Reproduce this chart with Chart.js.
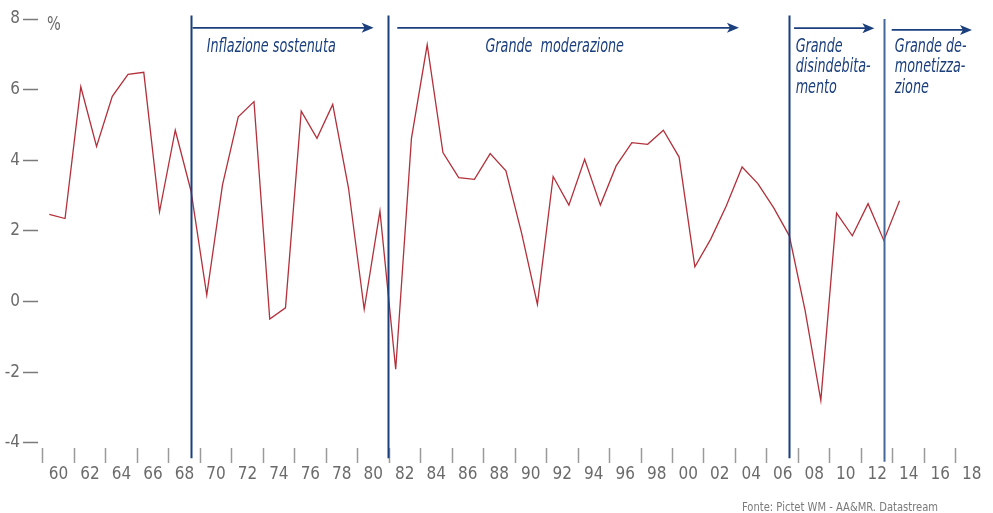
<!DOCTYPE html>
<html>
<head>
<meta charset="utf-8">
<script src="https://cdn.jsdelivr.net/npm/chart.js@4.4.1/dist/chart.umd.min.js"></script>
<style>
    html, body { margin: 0; padding: 0; background: #ffffff; }
    #wrap { width: 993px; height: 513px; }
</style>
</head>
<body>
<div id="wrap"><canvas id="growthChart" width="993" height="513"></canvas></div>
<script>
// Serie annuale (%)
const years = [1960, 1961, 1962, 1963, 1964, 1965, 1966, 1967, 1968, 1969,
    1970, 1971, 1972, 1973, 1974, 1975, 1976, 1977, 1978, 1979,
    1980, 1981, 1982, 1983, 1984, 1985, 1986, 1987, 1988, 1989,
    1990, 1991, 1992, 1993, 1994, 1995, 1996, 1997, 1998, 1999,
    2000, 2001, 2002, 2003, 2004, 2005, 2006, 2007, 2008, 2009,
    2010, 2011, 2012, 2013, 2014];
const growth = [2.47, 2.35, 6.08, 4.39, 5.81, 6.43, 6.49, 2.54, 4.85, 3.13,
    0.18, 3.30, 5.23, 5.66, -0.50, -0.18, 5.39, 4.62, 5.58, 3.22,
    -0.22, 2.56, -1.92, 4.62, 7.27, 4.22, 3.51, 3.46, 4.19, 3.70,
    1.93, -0.08, 3.54, 2.73, 4.03, 2.73, 3.84, 4.50, 4.45, 4.85,
    4.09, 0.98, 1.76, 2.71, 3.81, 3.34, 2.66, 1.86, -0.25, -2.80,
    2.50, 1.86, 2.77, 1.73, 2.85];

// Assi
const xTickLabels = ['60', '62', '64', '66', '68', '70', '72', '74', '76', '78',
    '80', '82', '84', '86', '88', '90', '92', '94', '96', '98',
    '00', '02', '04', '06', '08', '10', '12', '14', '16', '18'];
const xLabelYears = [1960, 1962, 1964, 1966, 1968, 1970, 1972, 1974, 1976, 1978,
    1980, 1982, 1984, 1986, 1988, 1990, 1992, 1994, 1996, 1998,
    2000, 2002, 2004, 2006, 2008, 2010, 2012, 2014, 2016, 2018];
const yTickValues = [-4, -2, 0, 2, 4, 6, 8];

// Periodi
const periodLines = [1969, 1981.5, 2007, 2013];
const arrowStarts = [1969.1, 1982.1, 2007.3, 2013.5];
const arrowEnds = [1980.6, 2003.8, 2012.4, 2018.6];
const arrowLevels = [7.75, 7.75, 7.74, 7.69];
const titleStarts = [1970.0, 1987.7, 2007.4, 2013.7];
const periodTitles = [
    ['Inflazione sostenuta'],
    ['Grande  moderazione'],
    ['Grande', 'disindebita-', 'mento'],
    ['Grande de-', 'monetizza-', 'zione']
];
const sourceNote = 'Fonte: Pictet WM - AA&MR. Datastream';

const FONT = '"Liberation Sans Narrow", "DejaVu Sans Condensed", sans-serif';
const NAVY = '#1b3f7c';

// testo compresso in orizzontale (il font originale e' condensato)
function drawNarrow(ctx, txt, x, y, sx) {
    ctx.save();
    ctx.translate(x, y);
    ctx.scale(sx, 1);
    ctx.fillText(txt, 0, 0);
    ctx.restore();
}

const periodPlugin = {
    id: 'periodPlugin',
    afterDatasetsDraw(chart) {
        const ctx = chart.ctx;
        const xs = chart.scales.x;
        const ys = chart.scales.y;
        ctx.save();

        // linee verticali
        periodLines.forEach(function (yr, i) {
            const px = Math.round(xs.getPixelForValue(yr)) + 0.5;
            ctx.strokeStyle = i === 3 ? '#45689a' : NAVY;
            ctx.lineWidth = 2;
            ctx.beginPath();
            ctx.moveTo(px, ys.getPixelForValue(i === 3 ? 8.0 : 8.1));
            ctx.lineTo(px, ys.getPixelForValue(i === 3 ? -4.54 : -4.44));
            ctx.stroke();
        });

        // frecce
        arrowStarts.forEach(function (yr, i) {
            const x1 = xs.getPixelForValue(yr);
            const x2 = xs.getPixelForValue(arrowEnds[i]);
            const py = ys.getPixelForValue(arrowLevels[i]);
            ctx.strokeStyle = NAVY;
            ctx.fillStyle = NAVY;
            ctx.lineWidth = 1.7;
            ctx.beginPath();
            ctx.moveTo(x1, py);
            ctx.lineTo(x2 - 6, py);
            ctx.stroke();
            ctx.beginPath();
            ctx.moveTo(x2, py);
            ctx.lineTo(x2 - 12, py - 5);
            ctx.lineTo(x2 - 9, py);
            ctx.lineTo(x2 - 12, py + 5);
            ctx.closePath();
            ctx.fill();
        });

        // titoli dei periodi
        ctx.fillStyle = NAVY;
        ctx.font = 'italic 19px ' + FONT;
        ctx.textAlign = 'left';
        ctx.textBaseline = 'alphabetic';
        const sx = 129 / ctx.measureText(periodTitles[0][0]).width;
        periodTitles.forEach(function (lines, i) {
            const px = xs.getPixelForValue(titleStarts[i]);
            const base = ys.getPixelForValue(7.07);
            lines.forEach(function (txt, j) {
                drawNarrow(ctx, txt, px, base + j * 20.4, sx);
            });
        });

        // simbolo %
        ctx.fillStyle = '#6b6b6b';
        ctx.font = '19px ' + FONT;
        drawNarrow(ctx, '%', xs.left + 9, ys.getPixelForValue(8) + 10.5, 0.85);

        // fonte
        ctx.fillStyle = '#7a7a7a';
        ctx.font = '12.5px ' + FONT;
        const nw = ctx.measureText(sourceNote).width;
        drawNarrow(ctx, sourceNote, 938 - 196, 511, 196 / nw);

        ctx.restore();
    }
};

const ctx = document.getElementById('growthChart').getContext('2d');

new Chart(ctx, {
    type: 'line',
    data: {
        datasets: [{
            label: 'Crescita',
            data: years.map(function (yr, i) { return { x: yr, y: growth[i] }; }),
            borderColor: '#b3303a',
            borderWidth: 1.3,
            pointRadius: 0,
            tension: 0,
            fill: false
        }]
    },
    options: {
        responsive: false,
        animation: false,
        events: [],
        layout: {
            padding: { top: 19, right: 10, bottom: 25, left: 0 }
        },
        plugins: {
            legend: { display: false },
            tooltip: { enabled: false }
        },
        scales: {
            x: {
                type: 'linear',
                min: 1959.282,
                max: 2019.3,
                afterBuildTicks: function (scale) {
                    scale.ticks = xLabelYears.map(function (v) { return { value: v + 0.58 }; });
                },
                afterFit: function (scale) { scale.height = 40; },
                border: { display: false },
                grid: {
                    offset: true,
                    drawOnChartArea: false,
                    drawTicks: true,
                    tickLength: 15,
                    tickColor: '#9a9a9a',
                    tickWidth: 1.5
                },
                ticks: {
                    autoSkip: false,
                    maxRotation: 0,
                    minRotation: 0,
                    padding: 1,
                    color: '#6b6b6b',
                    font: { family: FONT, size: 17 },
                    callback: function (value, index) { return xTickLabels[index]; }
                }
            },
            y: {
                min: -4.149,
                max: 8,
                afterBuildTicks: function (scale) {
                    scale.ticks = yTickValues.map(function (v) { return { value: v }; });
                },
                afterFit: function (scale) { scale.width = 38; },
                border: { display: false },
                grid: {
                    drawOnChartArea: false,
                    tickLength: 15,
                    tickColor: '#7a7a7a',
                    tickWidth: 1.5
                },
                ticks: {
                    padding: 3,
                    color: '#6b6b6b',
                    font: { family: FONT, size: 17 },
                    callback: function (value) { return String(value); }
                }
            }
        }
    },
    plugins: [periodPlugin]
});
</script>
</body>
</html>
